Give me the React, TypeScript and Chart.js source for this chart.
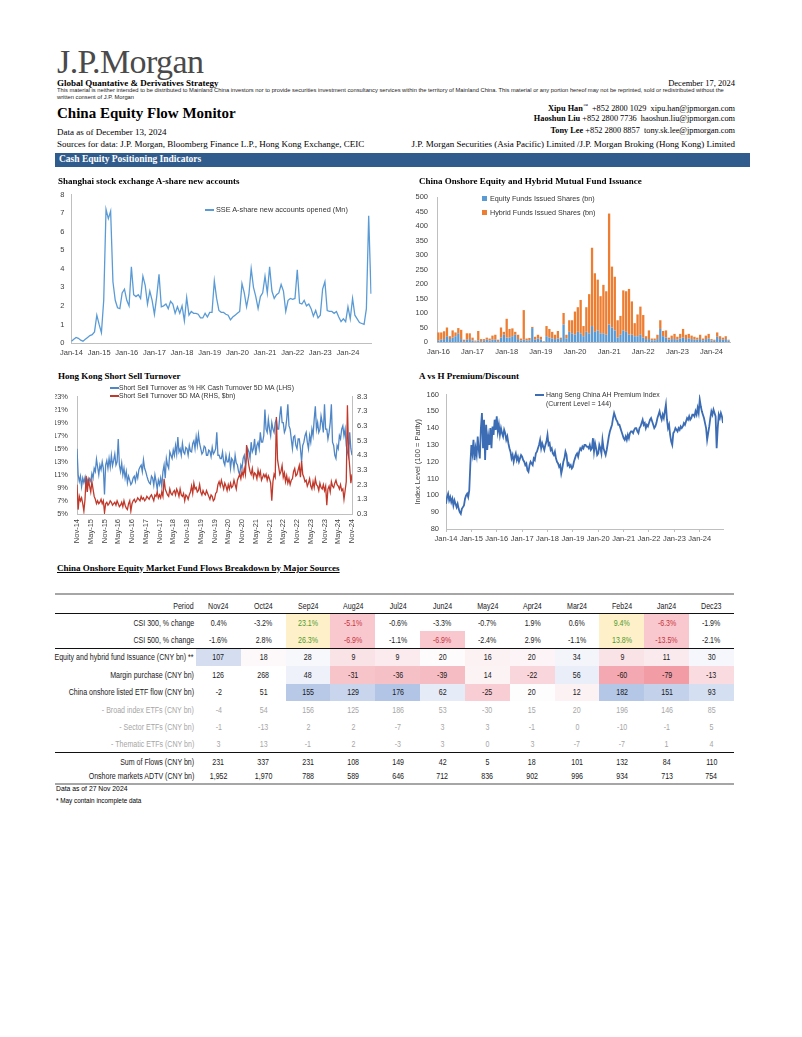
import React, { useEffect, useRef } from "react";
import { Chart, registerables } from "chart.js";
Chart.register(...registerables);

const SERIF = "'Liberation Serif', 'Times New Roman', serif";
const SANS = "'Liberation Sans', Arial, sans-serif";

Chart.defaults.font.family = SANS;
Chart.defaults.font.size = 7.5;
Chart.defaults.color = "#404040";

const MONTHS = ["Jan","Feb","Mar","Apr","May","Jun","Jul","Aug","Sep","Oct","Nov","Dec"];
function monthLabels(year: number, month: number, count: number): string[] {
  const out: string[] = [];
  for (let i = 0; i < count; i++) {
    const m = (month + i) % 12;
    const y = year + Math.floor((month + i) / 12);
    out.push(MONTHS[m] + "-" + String(y % 100).padStart(2, "0"));
  }
  return out;
}

// ---------- Chart 1: SSE A-share new accounts (Mn), monthly Jan-14 .. Nov-24
const sseMonths = monthLabels(2014, 0, 131);
const sseAccounts = [
  0.1,0.2,0.3,0.25,0.15,0.1,0.2,0.3,0.4,0.45,0.6,1.5,
  1.0,0.55,2.3,7.2,6.7,7.1,3.3,2.3,1.9,1.85,2.7,2.9,
  2.3,2.0,4.1,2.6,2.5,2.6,2.4,3.6,3.1,2.1,2.8,2.3,
  1.55,2.5,3.7,1.95,2.0,2.1,1.85,2.25,2.1,1.6,1.95,1.6,
  2.0,1.2,2.45,1.5,1.7,1.6,1.6,1.55,1.35,1.35,1.6,1.4,
  1.65,1.65,3.35,2.4,1.75,1.65,1.65,1.55,1.5,1.25,1.4,1.5,
  1.6,1.7,3.2,2.7,1.95,2.6,4.0,3.0,2.5,1.85,2.5,2.7,
  3.6,2.7,4.1,2.8,2.4,2.6,2.7,3.15,2.8,1.7,2.3,2.4,
  2.35,2.4,3.95,2.15,2.1,2.3,2.0,2.1,1.85,1.45,1.75,1.35,
  1.5,2.9,3.3,1.75,1.7,1.7,1.6,1.7,1.4,1.15,1.3,1.15,
  1.95,1.3,2.4,1.5,1.3,1.1,1.05,1.0,1.85,6.85,2.65,
];
const sseLegend = "SSE A-share new accounts opened (Mn)";

// ---------- Chart 2: fund issuance (bn), monthly Jan-16 .. Jul-24
const fundMonths = monthLabels(2016, 0, 103);
const equityFunds = [
  5,8,10,20,10,15,20,30,10,3,8,10,
  5,2,5,3,4,8,5,8,8,3,15,25,
  15,15,20,25,10,5,8,5,6,48,8,12,
  8,2,20,15,12,10,12,10,60,12,35,30,
  25,35,30,20,35,30,55,35,40,30,30,25,
  60,50,40,15,25,40,35,25,25,20,20,25,
  15,10,10,6,6,10,45,20,15,8,10,10,
  8,12,15,10,12,10,8,8,10,6,10,12,
  5,4,18,10,8,10,5,
];
const hybridFunds = [
  28,25,27,30,10,25,13,18,32,5,22,20,
  10,3,33,7,6,7,7,14,17,5,35,10,
  65,30,27,10,15,7,102,7,8,4,10,13,
  10,1,35,30,23,15,26,5,40,13,40,45,
  80,85,115,35,85,135,270,202,175,128,167,150,
  383,210,185,60,65,138,140,158,115,45,75,97,
  78,10,30,6,6,15,30,18,25,7,12,18,
  10,16,30,15,16,12,10,7,15,6,12,16,
  5,4,15,10,7,10,3,
];
const fundLegend = ["Equity Funds Issued Shares (bn)", "Hybrid Funds Issued Shares (bn)"];

// ---------- Chart 3: HK short sell turnover, semi-monthly from Nov-14
const ssTickLabels = [
  "Nov-14","May-15","Nov-15","May-16","Nov-16","May-17","Nov-17","May-18","Nov-18","May-19","Nov-19",
  "May-20","Nov-20","May-21","Nov-21","May-22","Nov-22","May-23","Nov-23","May-24","Nov-24",
];
const ssPctTicks = [5,7,9,11,13,15,17,19,21,23];
const ssAmtTicks = [0.3,1.3,2.3,3.3,4.3,5.3,6.3,7.3,8.3];
const shortSellPct = [
  15.0,11.0,10.0,10.8,9.2,10.5,9.8,10.6,9.0,10.2,9.6,10.4,
  10.0,11.2,10.5,12.0,11.5,13.4,12.2,11.0,12.5,11.8,13.0,12.0,
  8.0,12.5,13.2,12.0,13.5,12.2,14.0,12.4,13.2,14.2,12.5,13.0,
  16.5,12.5,11.5,12.8,11.0,12.0,10.5,11.5,9.8,10.8,10.2,9.5,
  9.8,10.5,10.8,10.0,11.2,10.5,11.8,12.2,12.5,11.5,13.3,12.0,
  11.5,10.8,10.2,9.8,9.6,10.8,10.5,9.4,11.0,10.0,8.8,10.2,
  9.5,10.5,9.2,11.5,12.5,10.5,13.5,12.5,12.0,14.5,14.0,13.5,
  14.8,14.0,15.5,14.2,16.8,14.5,15.0,14.0,15.8,14.5,14.2,15.2,
  15.0,14.0,15.5,14.6,14.5,15.8,16.2,15.0,16.8,15.5,17.2,15.8,
  15.0,14.2,14.5,15.4,15.2,14.0,14.0,14.8,14.6,13.8,15.2,14.2,
  14.5,15.0,17.5,14.0,14.0,13.5,13.5,14.5,13.0,12.5,14.0,13.0,
  13.0,14.0,12.0,13.5,13.2,12.0,14.0,12.8,12.5,11.5,11.0,12.5,
  12.0,13.5,14.0,12.5,13.5,15.0,14.5,13.5,16.0,14.5,15.0,16.5,
  14.0,15.5,16.0,15.0,17.5,16.0,16.0,17.0,21.0,18.0,17.5,19.5,
  18.0,17.0,19.0,18.0,17.5,19.0,19.5,18.0,18.0,20.0,21.5,19.0,
  19.0,17.5,18.0,19.5,21.8,18.5,18.0,16.5,15.0,16.8,17.0,15.5,
  15.0,16.5,16.5,15.0,13.0,15.5,16.0,17.0,17.5,16.0,15.0,17.0,
  16.0,18.0,17.0,19.5,21.5,18.0,19.0,17.5,18.0,20.0,19.0,17.5,
  21.8,18.0,18.0,16.5,17.5,19.0,21.8,16.0,15.5,14.0,13.5,15.5,
  15.0,17.0,16.5,18.0,18.5,17.0,18.0,15.5,14.5,13.8,17.5,15.0,
  14.0,
];
const shortSellAmt = [
  2.3,0.6,1.5,1.2,1.4,1.0,0.5,1.3,2.9,1.8,2.6,2.2,
  1.8,2.5,2.0,1.5,1.3,1.0,1.2,1.0,1.1,1.3,1.0,1.2,
  0.4,1.0,1.1,0.9,1.0,1.2,1.1,0.9,1.0,1.1,0.9,1.2,
  1.0,0.8,0.9,1.1,0.8,1.2,0.9,0.7,0.6,1.0,1.2,0.5,
  1.0,1.2,1.3,1.1,1.2,1.4,1.3,1.2,1.5,1.3,1.4,1.2,
  1.3,1.5,1.4,1.3,1.5,1.6,1.4,1.2,1.6,1.5,1.8,1.4,
  1.6,1.4,1.8,1.5,2.7,2.0,1.8,1.6,1.5,2.0,1.7,1.6,
  1.8,1.9,1.6,2.0,1.8,1.5,2.0,1.6,1.5,1.7,1.2,1.6,
  1.5,1.3,1.6,1.8,2.2,1.7,2.4,2.0,2.1,1.8,1.9,2.3,
  1.8,1.6,1.9,1.7,1.6,1.9,1.7,1.5,1.3,1.6,1.5,1.2,
  1.3,1.7,1.8,2.3,2.5,2.2,2.6,2.3,2.0,2.4,2.2,1.9,
  2.3,2.0,2.4,2.1,2.2,2.6,2.3,2.0,2.6,2.8,3.0,2.7,
  3.2,2.9,3.4,3.0,5.0,4.2,3.6,3.2,3.0,3.4,2.8,3.1,
  3.0,2.7,3.3,2.9,3.2,2.6,2.8,3.0,2.8,3.0,2.6,2.9,
  2.7,2.4,1.2,2.5,3.0,2.8,6.9,4.0,3.5,3.0,3.2,3.6,
  2.8,3.1,2.5,2.9,2.4,2.7,2.3,2.6,2.7,3.2,3.4,2.9,
  3.0,3.3,3.6,2.8,3.9,3.0,2.8,2.5,2.6,2.2,2.4,2.7,
  2.2,2.0,2.5,2.1,2.7,2.3,2.2,1.9,2.4,2.1,2.0,2.3,
  1.9,2.2,0.9,2.0,2.2,1.8,2.5,2.2,2.1,2.4,2.6,2.3,
  2.2,2.0,2.3,1.9,2.0,1.3,1.9,2.5,7.7,4.5,3.5,2.4,
  3.0,
];
const ssLegend = ["Short Sell Turnover as % HK Cash Turnover 5D MA (LHS)", "Short Sell Turnover 5D MA (RHS, $bn)"];

// ---------- Chart 4: Hang Seng China AH premium index, semi-monthly from Jan-14
const ahTickLabels = ["Jan-14","Jan-15","Jan-16","Jan-17","Jan-18","Jan-19","Jan-20","Jan-21","Jan-22","Jan-23","Jan-24"];
const ahPremium = [
  95,99,101,97,99,96,98,94,97,95,93,95,
  92,90,89,92,93,94,98,100,101,99,103,118,
  130,125,133,121,128,124,135,127,122,140,149,128,
  145,121,142,127,135,130,140,128,141,136,145,139,
  147,138,142,136,140,137,135,139,137,133,135,131,
  128,126,122,124,120,123,125,121,123,120,122,124,
  123,121,120,118,119,115,114,118,120,119,118,122,
  121,125,126,128,130,133,128,131,129,127,130,132,
  136,130,131,127,128,125,124,126,122,120,119,117,
  118,113,116,120,122,126,124,118,119,117,118,116,
  117,120,122,124,125,123,126,128,127,129,128,130,
  130,129,129,128,130,127,128,134,126,131,128,124,
  125,130,128,125,133,128,126,124,127,131,135,138,
  140,142,146,149,147,145,144,142,142,140,138,136,
  134,133,135,133,136,134,137,138,138,137,139,140,
  140,138,137,140,141,143,145,142,143,140,142,141,
  143,145,146,144,142,140,141,143,146,148,150,147,
  145,148,146,150,154,145,140,142,136,132,130,137,
  138,140,139,138,140,139,141,140,141,143,142,144,
  146,145,147,145,146,148,148,147,150,148,152,149,
  157,153,150,148,146,143,140,133,137,141,146,150,
  148,151,149,147,128,140,148,146,149,147,143,
];
const ahLegend = ["Hang Seng China AH Premium Index", "(Current Level = 144)"];

// ---------- Table
const tablePeriods = ["Nov24","Oct24","Sep24","Aug24","Jul24","Jun24","May24","Apr24","Mar24","Feb24","Jan24","Dec23"];
const csi300Chg = [0.4,-3.2,23.1,-5.1,-0.6,-3.3,-0.7,1.9,0.6,9.4,-6.3,-1.9];
const csi500Chg = [-1.6,2.8,26.3,-6.9,-1.1,-6.9,-2.4,2.9,-1.1,13.8,-13.5,-2.1];
const fundIssuance = [107,18,28,9,9,20,16,20,34,9,11,30];
const marginPurchase = [126,268,48,-31,-36,-39,14,-22,56,-60,-79,-13];
const etfFlow = [-2,51,155,129,176,62,-25,20,12,182,151,93];
const broadEtf = [-4,54,156,125,186,53,-30,15,20,196,146,85];
const sectorEtf = [-1,-13,2,2,-7,3,3,-1,0,-10,-1,5];
const thematicEtf = [3,13,-1,2,-3,3,0,3,-7,-7,1,4];
const sumFlows = [231,337,231,108,149,42,5,18,101,132,84,110];
const adtv = [1952,1970,788,589,646,712,836,902,996,934,713,754];

// styles for table cells (kept apart from the values)
const YEL = "#FEF0C8", PNK = "#F8C8CE";
const GRN_T = "#4E9A2E", RED_T = "#C8323C";
const csi300Bg = ["","",YEL,PNK,"","","","","",YEL,PNK,""];
const csi500Bg = ["","",YEL,PNK,"",PNK,"","","",YEL,PNK,""];
const txtFor = (bg: string) => (bg === YEL ? GRN_T : bg === PNK ? RED_T : "");
const fundBg = ["#D5DEF1","#FDF8F9","#F7F8FC","#FAE3E7","#FBEBEE","#FDFBFC","#FCF1F3","#FCF4F6","#F3F5FB","#FAE3E7","#FBEAED","#F5F7FC"];
const marginBg = ["#FFFFFF","#FFFFFF","#EEF1F9","#F7C4CA","#F6C0C7","#F6BCC3","#FCF3F5","#F9D6DB","#E9EEF8","#F4A8B1","#F29CA6","#FADCE0"];
const etfBg = ["#FFFFFF","#FFFFFF","#B8C9E8","#C8D5ED","#B2C5E7","#E5EBF7","#F8CDD3","#FDFDFE","#FCF1F3","#B5C7E7","#C3D1EB","#D5DFF2"];

const pct = (v: number) => v.toFixed(1) + "%";
const thou = (v: number) => v.toLocaleString("en-US");

// ---------- helpers
function ChartBox({ left, top, width, height, make }: any) {
  const ref = useRef<HTMLCanvasElement>(null);
  useEffect(() => {
    const c = new Chart(ref.current as HTMLCanvasElement, make());
    return () => c.destroy();
  }, []);
  return (
    <canvas
      ref={ref}
      width={width}
      height={height}
      style={{ position: "absolute", left, top, width, height }}
    />
  );
}

function Txt({ x, y, size, children, family = SERIF, weight = 400, color = "#000", align = "left", style = {} }: any) {
  const s: any = {
    position: "absolute",
    top: y - size / 2,
    fontSize: size,
    lineHeight: size + "px",
    fontFamily: family,
    fontWeight: weight,
    color,
    whiteSpace: "nowrap",
  };
  if (align === "right") s.right = 802 - x;
  else s.left = x;
  return <div style={{ ...s, ...style }}>{children}</div>;
}

function Narrow({ children, origin = "center" }: any) {
  return <span style={{ display: "inline-block", transform: "scaleX(0.83)", transformOrigin: origin + " center", whiteSpace: "nowrap" }}>{children}</span>;
}

function HLine({ y, h, color, x0 = 55, x1 = 734 }: any) {
  return <div style={{ position: "absolute", left: x0, top: y - h / 2, width: x1 - x0, height: h, background: color }} />;
}

const AX = "#BFBFBF";
const noGrid = { display: false, drawTicks: false };

function makeSse() {
  return {
    type: "line",
    data: {
      labels: sseMonths,
      datasets: [{ data: sseAccounts, borderColor: "#5B9BD5", borderWidth: 1.3, pointRadius: 0, tension: 0 }],
    },
    options: {
      animation: false, responsive: false, devicePixelRatio: 1,
      layout: { padding: { top: 10, right: 9, bottom: 0, left: 0 } },
      plugins: { legend: { display: false }, tooltip: { enabled: false } },
      scales: {
        x: {
          grid: noGrid, border: { color: AX },
          ticks: { autoSkip: false, maxRotation: 0, padding: 5, callback: (_v: any, i: number) => (sseMonths[i].startsWith("Jan") ? sseMonths[i] : "") },
          afterFit: (s: any) => { s.height = 20; },
        },
        y: {
          min: 0, max: 8, grid: noGrid, border: { color: AX },
          ticks: { stepSize: 1, padding: 7 },
          afterFit: (s: any) => { s.width = 15; },
        },
      },
    },
  };
}

function makeFunds() {
  return {
    type: "bar",
    data: {
      labels: fundMonths,
      datasets: [
        { data: equityFunds, backgroundColor: "#5B9BD5", barPercentage: 0.85, categoryPercentage: 0.95 },
        { data: hybridFunds, backgroundColor: "#ED7D31", barPercentage: 0.85, categoryPercentage: 0.95 },
      ],
    },
    options: {
      animation: false, responsive: false, devicePixelRatio: 1,
      layout: { padding: { top: 14, right: 25, bottom: 0, left: 0 } },
      plugins: { legend: { display: false }, tooltip: { enabled: false } },
      scales: {
        x: {
          stacked: true, grid: noGrid, border: { color: AX },
          ticks: { autoSkip: false, maxRotation: 0, padding: 5, callback: (_v: any, i: number) => (fundMonths[i].startsWith("Jan") ? fundMonths[i] : "") },
          afterFit: (s: any) => { s.height = 21; },
        },
        y: {
          stacked: true, min: 0, max: 500, grid: noGrid, border: { color: AX },
          ticks: { stepSize: 50, padding: 9 },
          afterFit: (s: any) => { s.width = 42; },
        },
      },
    },
  };
}

function makeShortSell() {
  const pctPts = shortSellPct.map((v, i) => ({ x: i * 0.5, y: v }));
  const amtPts = shortSellAmt.map((v, i) => ({ x: i * 0.5, y: v }));
  return {
    type: "line",
    data: {
      datasets: [
        { data: amtPts, yAxisID: "y1", borderColor: "#C0392B", borderWidth: 1.3, pointRadius: 0, tension: 0, order: 0 },
        { data: pctPts, yAxisID: "y", borderColor: "#4F86C6", borderWidth: 1.3, pointRadius: 0, tension: 0, order: 1 },
      ],
    },
    options: {
      animation: false, responsive: false, devicePixelRatio: 1,
      layout: { padding: { top: 5, right: 0, bottom: 0, left: 0 } },
      plugins: { legend: { display: false }, tooltip: { enabled: false } },
      scales: {
        x: {
          type: "linear", min: 0, max: 120, grid: noGrid, border: { color: AX },
          afterBuildTicks: (a: any) => { a.ticks = ssTickLabels.map((_l, i) => ({ value: i * 6 })); },
          ticks: { autoSkip: false, minRotation: 90, maxRotation: 90, padding: 5, callback: (_v: any, i: number) => ssTickLabels[i] },
          afterFit: (s: any) => { s.height = 39; },
        },
        y: {
          position: "left", min: 5, max: 23, grid: noGrid, border: { color: AX },
          afterBuildTicks: (a: any) => { a.ticks = ssPctTicks.map((v) => ({ value: v })); },
          ticks: { padding: 9, callback: (v: any) => v + "%" },
          afterFit: (s: any) => { s.width = 22; },
        },
        y1: {
          position: "right", min: 0.3, max: 8.3, grid: noGrid, border: { color: AX },
          afterBuildTicks: (a: any) => { a.ticks = ssAmtTicks.map((v) => ({ value: v })); },
          ticks: { padding: 5, callback: (v: any) => Number(v).toFixed(1) },
          afterFit: (s: any) => { s.width = 33; },
        },
      },
    },
  };
}

function makeAh() {
  const pts = ahPremium.map((v, i) => ({ x: i * 0.5, y: v }));
  return {
    type: "line",
    data: { datasets: [{ data: pts, borderColor: "#3C6DB4", borderWidth: 1.8, pointRadius: 0, tension: 0 }] },
    options: {
      animation: false, responsive: false, devicePixelRatio: 1,
      layout: { padding: { top: 5, right: 32, bottom: 0, left: 18 } },
      plugins: { legend: { display: false }, tooltip: { enabled: false } },
      scales: {
        x: {
          type: "linear", min: 0, max: 131,
          grid: { display: true, drawOnChartArea: false, drawTicks: true, tickLength: 3, color: AX },
          border: { color: AX },
          afterBuildTicks: (a: any) => { a.ticks = ahTickLabels.map((_l, i) => ({ value: i * 12 })); },
          ticks: { autoSkip: false, maxRotation: 0, padding: 2, callback: (_v: any, i: number) => ahTickLabels[i] },
          afterFit: (s: any) => { s.height = 19; },
        },
        y: {
          min: 80, max: 160, grid: noGrid, border: { color: AX },
          ticks: { stepSize: 10, padding: 7 },
          title: { display: true, text: "Index Level (100 = Parity)", font: { size: 7.5 }, padding: { top: 0, bottom: 0 } },
          afterFit: (s: any) => { s.width = 33; },
        },
      },
    },
  };
}

function TRow({ top, height, label, cells, bgs, colors, color = "#1a1a1a" }: any) {
  return (
    <div style={{ position: "absolute", left: 55, top, height, width: 679, display: "flex", fontFamily: SANS, fontSize: 8.5, color }}>
      <div style={{ width: 141, display: "flex", justifyContent: "flex-end", alignItems: "center", paddingRight: 2, boxSizing: "border-box", whiteSpace: "nowrap" }}>
        <Narrow origin="right">{label}</Narrow>
      </div>
      {cells.map((c: any, i: number) => (
        <div key={i} style={{ width: 44.83, height: "100%", display: "flex", alignItems: "center", justifyContent: "center", background: (bgs && bgs[i]) || "transparent", color: (colors && colors[i]) || color }}>
          <Narrow>{c}</Narrow>
        </div>
      ))}
    </div>
  );
}

export default function App() {
  return (
    <div style={{ position: "absolute", left: 0, top: 0, width: 802, height: 1037, background: "#fff", overflow: "hidden" }}>
      {/* Header */}
      <Txt x={57} y={62} size={34} color="#4a4a4a" style={{ letterSpacing: -0.6 }}>J.P.Morgan</Txt>
      <Txt x={57} y={83} size={9} weight={700}>Global Quantative &amp; Derivatives Strategy</Txt>
      <Txt x={735} y={83} size={8.5} align="right">December 17, 2024</Txt>
      <Txt x={57} y={90.5} size={6.2} family={SANS} color="#222" style={{ transform: "scaleX(0.93)", transformOrigin: "left center" }}>This material is neither intended to be distributed to Mainland China investors nor to provide securities investment consultancy services within the territory of Mainland China. This material or any portion hereof may not be reprinted, sold or redistributed without the</Txt>
      <Txt x={57} y={97.5} size={6.2} family={SANS} color="#222" style={{ transform: "scaleX(0.93)", transformOrigin: "left center" }}>written consent of J.P. Morgan</Txt>
      <Txt x={57} y={113} size={15} weight={700}>China Equity Flow Monitor</Txt>
      <Txt x={735} y={106} size={8.3} align="right"><b>Xipu Han</b><sup style={{ fontSize: 5 }}>™</sup>&nbsp; +852 2800 1029 &nbsp;xipu.han@jpmorgan.com</Txt>
      <Txt x={735} y={119} size={8.3} align="right"><b>Haoshun Liu</b> +852 2800 7736 &nbsp;haoshun.liu@jpmorgan.com</Txt>
      <Txt x={735} y={131} size={8.3} align="right"><b>Tony Lee</b> +852 2800 8857 &nbsp;tony.sk.lee@jpmorgan.com</Txt>
      <Txt x={57} y={132} size={9}>Data as of December 13, 2024</Txt>
      <Txt x={57} y={144} size={9}>Sources for data: J.P. Morgan, Bloomberg Finance L.P., Hong Kong Exchange, CEIC</Txt>
      <Txt x={735} y={144} size={9} align="right">J.P. Morgan Securities (Asia Pacific) Limited /J.P. Morgan Broking (Hong Kong) Limited</Txt>
      <div style={{ position: "absolute", left: 55, top: 153, width: 695, height: 14, background: "#2F5C8C" }} />
      <Txt x={59} y={160} size={9.5} weight={700} color="#fff">Cash Equity Positioning Indicators</Txt>

      {/* Charts */}
      <ChartBox left={55} top={183} width={325} height={180} make={makeSse} />
      <ChartBox left={395} top={183} width={360} height={180} make={makeFunds} />
      <ChartBox left={55} top={383} width={330} height={170} make={makeShortSell} />
      <ChartBox left={395} top={383} width={360} height={165} make={makeAh} />

      <Txt x={58} y={181} size={9} weight={700}>Shanghai stock exchange A-share new accounts</Txt>
      <Txt x={419} y={181} size={9} weight={700}>China Onshore Equity and Hybrid Mutual Fund Issuance</Txt>
      <Txt x={58} y={376} size={9} weight={700}>Hong Kong Short Sell Turnover</Txt>
      <Txt x={419} y={376} size={9} weight={700}>A vs H Premium/Discount</Txt>

      {/* Legends */}
      <div style={{ position: "absolute", left: 205, top: 209, width: 9, height: 1.5, background: "#5B9BD5" }} />
      <Txt x={216} y={210} size={7.3} family={SANS} color="#333">{sseLegend}</Txt>

      <div style={{ position: "absolute", left: 482, top: 196, width: 5, height: 5, background: "#5B9BD5" }} />
      <Txt x={490} y={199} size={7.2} family={SANS} color="#333">{fundLegend[0]}</Txt>
      <div style={{ position: "absolute", left: 482, top: 210, width: 5, height: 5, background: "#ED7D31" }} />
      <Txt x={490} y={213} size={7.2} family={SANS} color="#333">{fundLegend[1]}</Txt>

      <div style={{ position: "absolute", left: 110, top: 387, width: 9, height: 1.5, background: "#4F86C6" }} />
      <Txt x={119} y={388} size={6.8} family={SANS} color="#333">{ssLegend[0]}</Txt>
      <div style={{ position: "absolute", left: 110, top: 395, width: 9, height: 1.5, background: "#C0392B" }} />
      <Txt x={119} y={396} size={6.8} family={SANS} color="#333">{ssLegend[1]}</Txt>

      <div style={{ position: "absolute", left: 535, top: 394, width: 9, height: 2, background: "#3C6DB4" }} />
      <Txt x={546} y={395} size={6.9} family={SANS} color="#333">{ahLegend[0]}</Txt>
      <Txt x={546} y={404.5} size={6.9} family={SANS} color="#333">{ahLegend[1]}</Txt>

      {/* Table */}
      <Txt x={57} y={568} size={9} weight={700} style={{ textDecoration: "underline" }}>China Onshore Equity Market Fund Flows Breakdown by Major Sources</Txt>
      <TRow top={598} height={16} label="Period" cells={tablePeriods} />
      <TRow top={614} height={17} label="CSI 300, % change" cells={csi300Chg.map(pct)} bgs={csi300Bg} colors={csi300Bg.map(txtFor)} />
      <TRow top={631} height={17} label="CSI 500, % change" cells={csi500Chg.map(pct)} bgs={csi500Bg} colors={csi500Bg.map(txtFor)} />
      <TRow top={648.5} height={17.5} label="Equity and hybrid fund Issuance (CNY bn) **" cells={fundIssuance} bgs={fundBg} />
      <TRow top={666} height={17.5} label="Margin purchase (CNY bn)" cells={marginPurchase} bgs={marginBg} />
      <TRow top={683.5} height={17.5} label="China onshore listed ETF flow (CNY bn)" cells={etfFlow} bgs={etfBg} />
      <TRow top={701} height={17.5} label="- Broad index ETFs (CNY bn)" cells={broadEtf} color="#A6A6A6" />
      <TRow top={718.5} height={17} label="- Sector  ETFs (CNY bn)" cells={sectorEtf} color="#A6A6A6" />
      <TRow top={735.5} height={17} label="- Thematic ETFs (CNY bn)" cells={thematicEtf} color="#A6A6A6" />
      <TRow top={753.5} height={17} label="Sum of Flows (CNY bn)" cells={sumFlows} />
      <TRow top={769} height={14} label="Onshore markets ADTV (CNY bn)" cells={adtv.map(thou)} />
      <HLine y={594} h={2} color="#A6A6A6" />
      <HLine y={613.5} h={1.5} color="#111" />
      <HLine y={648.3} h={1.5} color="#111" />
      <HLine y={752.5} h={1.5} color="#111" />
      <HLine y={783.5} h={2} color="#A6A6A6" />
      <Txt x={56} y={788.5} size={8} family={SANS} style={{ transform: "scaleX(0.85)", transformOrigin: "left center" }}>Data as of 27 Nov 2024</Txt>
      <Txt x={56} y={800.5} size={7.5} family={SANS} style={{ transform: "scaleX(0.85)", transformOrigin: "left center" }}>* May contain incomplete data</Txt>
    </div>
  );
}
